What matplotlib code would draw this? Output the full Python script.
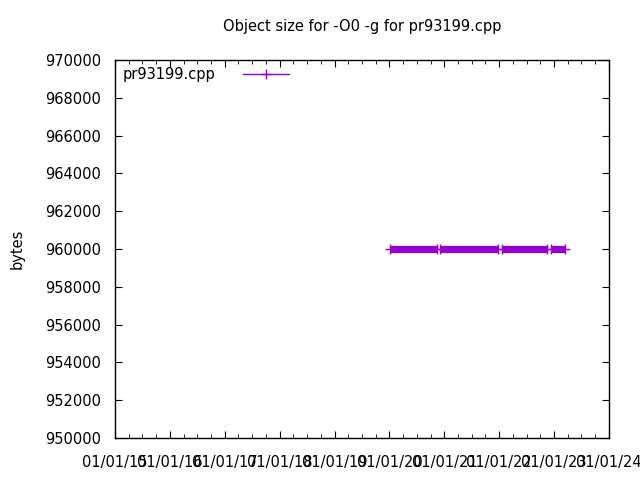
import datetime
import matplotlib
matplotlib.use('Agg')
import matplotlib.pyplot as plt
import matplotlib.dates as mdates

# object size over time, in runs of nearly daily points (gaps between runs)
run_starts = ['2020-01-04', '2020-12-02', '2022-01-19', '2022-12-10']
run_ends = ['2020-11-12', '2021-12-23', '2022-11-13', '2023-03-13']
run_sizes = [960000, 960000, 960000, 960000]
label = 'pr93199.cpp'
color = '#9400d3'


def to_date(s):
    return datetime.datetime.strptime(s, '%Y-%m-%d')


fig = plt.figure(figsize=(6.4, 4.8), dpi=100)
ax = fig.add_axes([0.1797, 0.0875, 0.7719, 0.7875])

for i, (s, e, v) in enumerate(zip(run_starts, run_ends, run_sizes)):
    xs = [to_date(s), to_date(e)]
    ax.plot(xs, [v, v], color=color, lw=5.2, solid_capstyle='butt')
    ax.plot(xs, [v, v], color=color, lw=1, ls='none', marker='+', ms=7, mew=1,
            label=label if i == 0 else None)

ax.set_xlim(datetime.datetime(2015, 1, 1), datetime.datetime(2024, 1, 1))
ax.set_ylim(950000, 970000)
ax.set_yticks(range(950000, 970001, 2000))
ax.xaxis.set_major_locator(mdates.YearLocator())
ax.xaxis.set_minor_locator(mdates.MonthLocator(bymonth=[4, 7, 10]))
ax.xaxis.set_major_formatter(mdates.DateFormatter('%m/%d/%y'))
ax.tick_params(which='both', direction='in', top=True, right=True, labelsize=10.5)
ax.tick_params(axis='x', pad=12)
ax.tick_params(axis='y', pad=10)
ax.tick_params(which='major', length=5)
ax.tick_params(which='minor', length=3)
for sp in ax.spines.values():
    sp.set_linewidth(1)

ax.set_title('Object size for -O0 -g for pr93199.cpp', fontsize=10.5, pad=21)
ax.set_ylabel('bytes', fontsize=10.5, labelpad=15)

leg = ax.legend(loc='upper left', frameon=False, markerfirst=False, fontsize=10.5,
                handlelength=3.1, handletextpad=1.95, borderaxespad=0.1)
for h in leg.legend_handles:
    h.set_linestyle('-')

fig.savefig('out.png', dpi=100)
